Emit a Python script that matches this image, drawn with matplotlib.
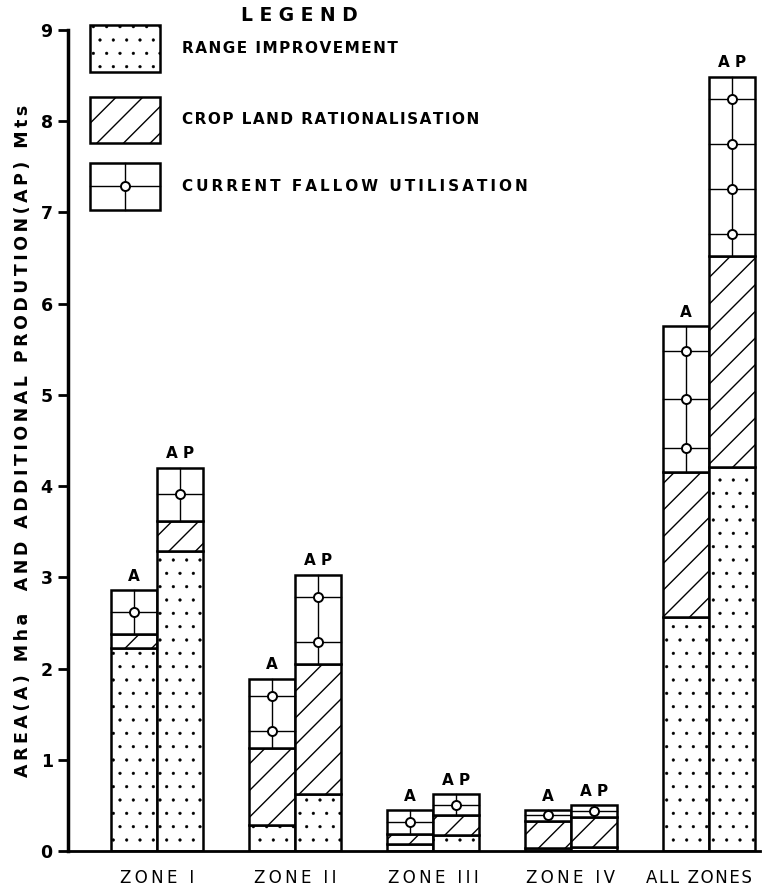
import matplotlib
matplotlib.use("Agg")
import matplotlib.pyplot as plt
from matplotlib.patches import Rectangle
import numpy as np

# ---- data ----
zones = ["ZONE I", "ZONE II", "ZONE III", "ZONE IV", "ALL ZONES"]
bar_kinds = ["A", "AP"]
# stacked components: range improvement, crop land rationalisation, current fallow utilisation
range_A = [2.22, 0.29, 0.08, 0.03, 2.56]
crop_A = [0.16, 0.84, 0.11, 0.30, 1.59]
fallow_A = [0.48, 0.76, 0.26, 0.12, 1.60]
range_AP = [3.29, 0.63, 0.17, 0.04, 4.21]
crop_AP = [0.33, 1.42, 0.22, 0.33, 2.31]
fallow_AP = [0.58, 0.98, 0.23, 0.13, 1.97]

yticks = list(range(0, 10))
ylabel = "AREA(A) Mha  AND ADDITIONAL PRODUTION(AP) Mts"
legend_title = "LEGEND"
legend_labels = ["RANGE IMPROVEMENT", "CROP LAND RATIONALISATION", "CURRENT FALLOW UTILISATION"]

DPI = 80
S = 100.0 / DPI   # keep pixel sizes as if drawn at 100 dpi

def spaced(s, sep="\u200a"):
    return sep.join(list(s))

def set_hlw(patches, lw):
    for p in patches:
        if hasattr(p, "set_hatch_linewidth"):
            p.set_hatch_linewidth(lw)

plt.rcParams['font.family'] = ['DejaVu Sans']
plt.rcParams['hatch.linewidth'] = 1.0 * S

fig = plt.figure(figsize=(764 / DPI, 895 / DPI), dpi=DPI)
ax = fig.add_axes([68/764, 44/895, 692/764, 821/895])

x = np.arange(len(zones))
w = 0.335

def draw_fallow(ax, xc, bottom, height, width):
    n = max(1, int(round(height / 0.5)))
    levels = [bottom + (i + 0.5) * height / n for i in range(n)]
    ax.plot([xc, xc], [bottom, bottom + height], color='black', lw=1.0 * S, zorder=3)
    for lv in levels:
        ax.plot([xc - width/2, xc + width/2], [lv, lv], color='black', lw=1.0 * S, zorder=3)
    ax.plot([xc]*n, levels, 'o', ms=6.5 * S, mfc='white', mec='black', mew=1.4 * S, zorder=4)

for kind, rng, crp, fal, off in [("A", range_A, crop_A, fallow_A, -w/2),
                                 ("AP", range_AP, crop_AP, fallow_AP, w/2)]:
    xs = x + off
    rng = np.array(rng); crp = np.array(crp); fal = np.array(fal)
    with plt.rc_context({'hatch.linewidth': 0.4}):
        b1 = ax.bar(xs, rng, w, color='white', edgecolor='black', hatch='.', lw=1.8 * S, zorder=2)
    set_hlw(b1.patches, 0.4)
    ax.bar(xs, crp, w, bottom=rng, color='white', edgecolor='black', hatch='/', lw=1.8 * S, zorder=2)
    ax.bar(xs, fal, w, bottom=rng + crp, color='white', edgecolor='black', lw=1.8 * S, zorder=2)
    for xi, b, h in zip(xs, rng + crp, fal):
        draw_fallow(ax, xi, b, h, w)
        ax.text(xi, b + h + 0.07, spaced(kind, " "), ha='center', va='bottom', fontsize=11 * S,
                fontweight='bold')

ax.set_xlim(-0.645, 4.37)
ax.set_ylim(0, 9)
ax.set_yticks(yticks)
ax.set_yticklabels([str(t) for t in yticks], fontsize=12.5 * S, fontweight='bold')
ax.set_xticks(x[:-1])
ax.set_xticklabels([spaced(z, "\u2009") for z in zones[:-1]], fontsize=12 * S)
# last category label sits slightly left of its group so it stays inside the figure
ax.text(x[-1] - 0.07, -0.033, spaced(zones[-1], "\u200a"), transform=ax.get_xaxis_transform(),
        ha='center', va='center', fontsize=12 * S)
ax.tick_params(axis='x', length=0, pad=13 * S)
ax.tick_params(axis='y', length=7 * S, width=2 * S, direction='out', pad=4 * S)
for s in ['top', 'right']:
    ax.spines[s].set_visible(False)
ax.spines['left'].set_linewidth(2.5 * S)
ax.spines['bottom'].set_linewidth(2.0 * S)
ax.set_ylabel(spaced(ylabel, "\u2009"), fontsize=12.5 * S, fontweight='bold', labelpad=6 * S)

# ---- legend (drawn manually in axes coordinates) ----
bx, bw, bh = 0.032, 0.101, 0.057
box_bottoms = [0.949, 0.862, 0.781]
hatches = ['.', '/', '']
seps = ["\u200a", "\u200a", "\u2009"]
for yb, hch, lab, sp in zip(box_bottoms, hatches, legend_labels, seps):
    with plt.rc_context({'hatch.linewidth': 0.4 if hch == '.' else 1.0 * S}):
        r = Rectangle((bx, yb), bw, bh, transform=ax.transAxes, facecolor='white',
                      edgecolor='black', hatch=hch, lw=1.8 * S, clip_on=False, zorder=5)
    if hch == '.':
        set_hlw([r], 0.4)
    ax.add_patch(r)
    ax.text(0.165, yb + bh/2, spaced(lab, sp), transform=ax.transAxes, ha='left', va='center',
            fontsize=11 * S, fontweight='bold')
# fallow symbol in legend
yb = box_bottoms[2]
ax.plot([bx + bw/2, bx + bw/2], [yb, yb + bh], color='black', lw=1.0 * S,
        transform=ax.transAxes, clip_on=False, zorder=6)
ax.plot([bx, bx + bw], [yb + bh/2, yb + bh/2], color='black', lw=1.0 * S,
        transform=ax.transAxes, clip_on=False, zorder=6)
ax.plot([bx + bw/2], [yb + bh/2], 'o', ms=6.5 * S, mfc='white', mec='black', mew=1.4 * S,
        transform=ax.transAxes, clip_on=False, zorder=7)
ax.text(0.335, 1.018, spaced(legend_title, " "), transform=ax.transAxes, ha='center', va='center',
        fontsize=13.5 * S, fontweight='heavy')

fig.savefig("out.png", dpi=DPI)
